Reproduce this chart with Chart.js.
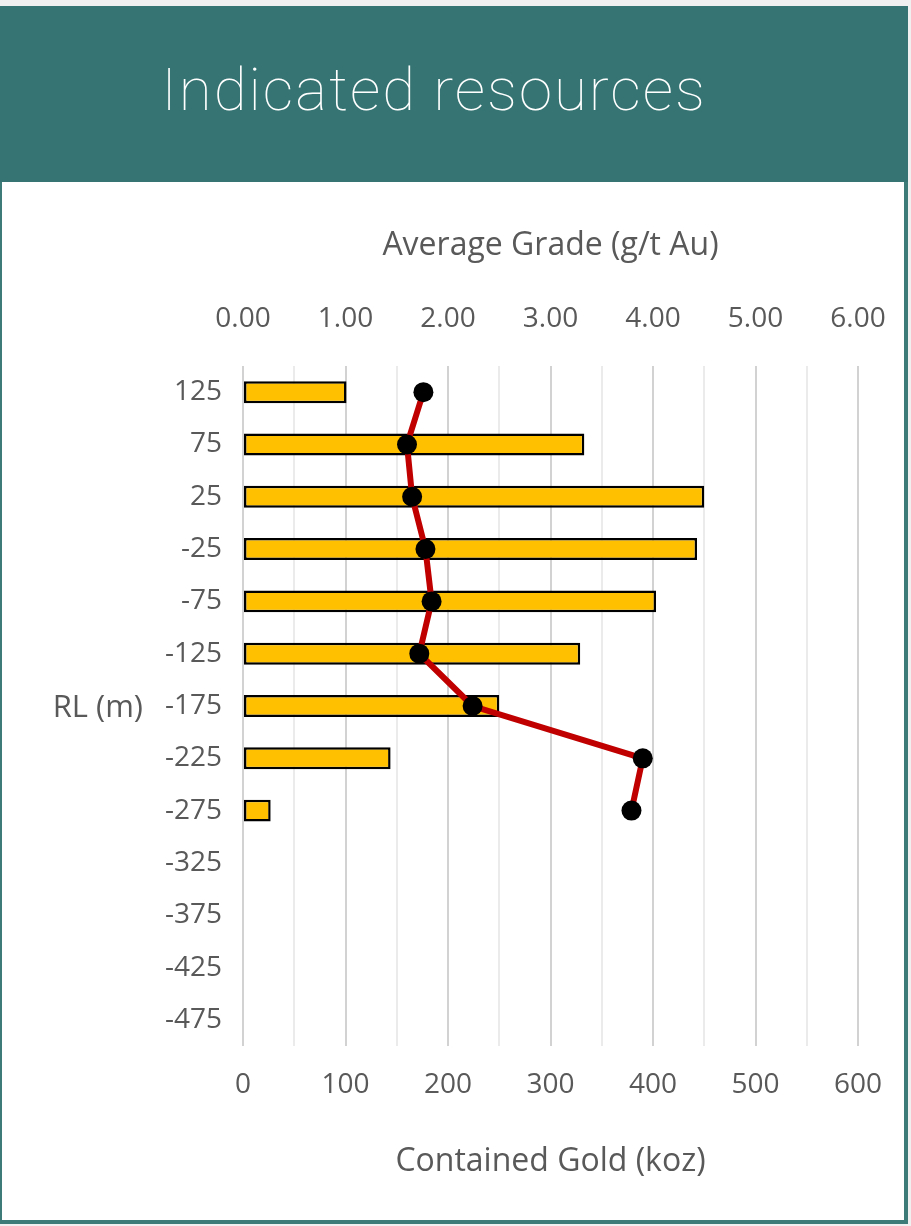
<!DOCTYPE html>
<html>
<head>
<meta charset="utf-8">
<script src="https://cdn.jsdelivr.net/npm/chart.js@4.4.1/dist/chart.umd.min.js"></script>
<style>
  html, body { margin: 0; padding: 0; background: #f0f0f0; width: 911px; height: 1226px; overflow: hidden; }
  #header { position: absolute; left: 0; top: 6px; width: 908px; height: 176px; background: #357472; }
  #title { position: absolute; left: 0; width: 868px; top: 44px; text-align: center; color: #ffffff;
           font-family: Roboto, "Open Sans", sans-serif; font-weight: 100; font-size: 60px; line-height: 80px;
           letter-spacing: 2px; white-space: nowrap; }
  #box { position: absolute; left: 0; top: 182px; width: 902px; height: 1038px; background: #ffffff;
         border-left: 2px solid #3d7b79; border-right: 4px solid #3d7b79; border-bottom: 4px solid #3d7b79; }
  #wrap { position: absolute; left: 2px; top: 182px; width: 902px; height: 1038px; }
</style>
</head>
<body>
<div id="header"><div id="title">Indicated resources</div></div>
<div id="box"></div>
<div id="wrap"><canvas id="c"></canvas></div>
<script>
const rlLabels = ['125','75','25','-25','-75','-125','-175','-225','-275','-325','-375','-425','-475'];
const containedGold = [101, 333, 450, 443, 403, 329, 250, 144, 27, null, null, null, null];
const averageGrade = [1.76, 1.60, 1.65, 1.78, 1.84, 1.72, 2.24, 3.90, 3.79, null, null, null, null];
const goldTicksMax = 600;
const gradeTicksMax = 6;

const FONT = '"Open Sans", sans-serif';
const GREY = '#595959';

const rlTitlePlugin = {
  id: 'rlTitle',
  afterDraw(chart) {
    const y = chart.scales.y;
    const ctx = chart.ctx;
    ctx.save();
    ctx.font = '31px ' + FONT;
    ctx.fillStyle = GREY;
    ctx.textAlign = 'right';
    ctx.textBaseline = 'middle';
    ctx.fillText('RL (m)', 141, y.getPixelForValue(6) + 2);
    ctx.restore();
  }
};

function noPad(scale) {
  scale.paddingLeft = 0; scale.paddingRight = 0;
  scale.paddingTop = 0; scale.paddingBottom = 0;
}

new Chart(document.getElementById('c'), {
  data: {
    labels: rlLabels,
    datasets: [
      {
        type: 'line',
        label: 'Average Grade (g/t Au)',
        data: averageGrade,
        indexAxis: 'y',
        xAxisID: 'x2',
        yAxisID: 'y',
        borderColor: '#C00000',
        borderWidth: 6,
        pointRadius: 10,
        pointHoverRadius: 10,
        pointBackgroundColor: '#000000',
        pointBorderColor: '#000000',
        pointBorderWidth: 0,
        tension: 0,
        fill: false,
        order: 0
      },
      {
        type: 'bar',
        label: 'Contained Gold (koz)',
        data: containedGold,
        indexAxis: 'y',
        xAxisID: 'x',
        yAxisID: 'y',
        backgroundColor: '#FFC000',
        borderColor: '#000000',
        borderWidth: 2.5,
        borderSkipped: false,
        barPercentage: 0.42,
        categoryPercentage: 1.0,
        order: 1
      }
    ]
  },
  options: {
    indexAxis: 'y',
    responsive: true,
    maintainAspectRatio: false,
    animation: false,
    events: [],
    layout: { padding: { left: 0, right: 46, top: 0, bottom: 0 } },
    plugins: { legend: { display: false }, tooltip: { enabled: false } },
    scales: {
      y: {
        type: 'category',
        position: 'left',
        offset: true,
        grid: { display: false, drawTicks: false },
        border: { display: false },
        ticks: { color: GREY, font: { family: FONT, size: 28 }, padding: 21 },
        afterFit(scale) { scale.width = 241; noPad(scale); }
      },
      x: {
        type: 'linear',
        position: 'bottom',
        min: 0,
        max: goldTicksMax,
        grid: {
          drawTicks: false,
          color: (c) => (c.tick && c.tick.value % 100 === 0) ? '#d2d2d2' : '#ebebeb',
          lineWidth: 2
        },
        border: { display: false },
        ticks: {
          stepSize: 50,
          autoSkip: false,
          maxRotation: 0,
          color: GREY,
          font: { family: FONT, size: 28 },
          padding: 22,
          callback: (v) => (v % 100 === 0 ? String(v) : '')
        },
        title: {
          display: true,
          text: 'Contained Gold (koz)',
          color: GREY,
          font: { family: FONT, size: 32 },
          padding: { top: 0, bottom: 39 }
        },
        afterFit(scale) { scale.height = 174; noPad(scale); }
      },
      x2: {
        type: 'linear',
        position: 'top',
        min: 0,
        max: gradeTicksMax,
        grid: { display: false, drawTicks: false },
        border: { display: false },
        ticks: {
          stepSize: 1,
          color: GREY,
          font: { family: FONT, size: 28 },
          padding: 30,
          callback: (v) => Number(v).toFixed(2)
        },
        title: {
          display: true,
          text: 'Average Grade (g/t Au)',
          color: GREY,
          font: { family: FONT, size: 32 },
          padding: { top: 45, bottom: 0 }
        },
        afterFit(scale) { scale.height = 184; noPad(scale); }
      }
    }
  },
  plugins: [rlTitlePlugin]
});
</script>
</body>
</html>
